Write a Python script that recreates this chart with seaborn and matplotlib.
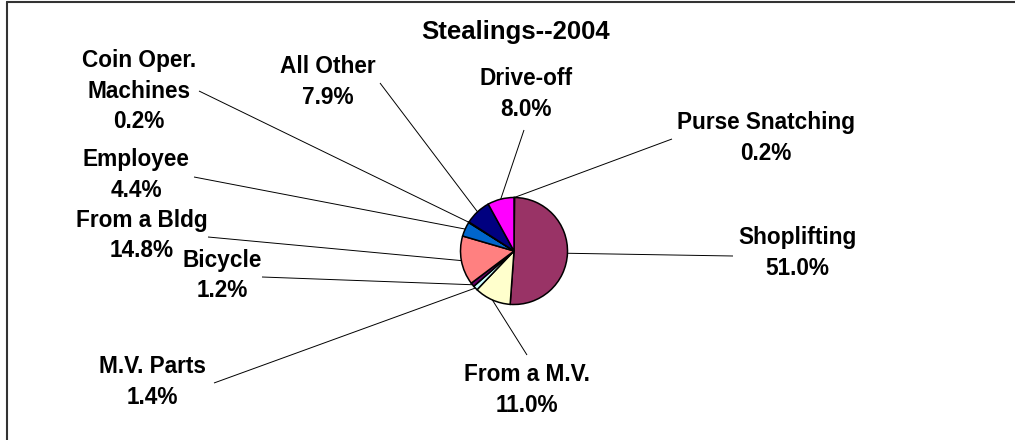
import numpy as np
import matplotlib
matplotlib.use("Agg")
import matplotlib.pyplot as plt
import seaborn as sns

# ---- data (clockwise from 12 o'clock) ----
categories = ["Purse Snatching", "Shoplifting", "From a M.V.", "M.V. Parts", "Bicycle",
              "From a Bldg", "Employee", "Coin Oper.\nMachines", "All Other", "Drive-off"]
shares = [0.2, 51.0, 11.0, 1.4, 1.2, 14.8, 4.4, 0.2, 7.9, 8.0]
colors = ["#9999FF", "#993366", "#FFFFCC", "#CCFFFF", "#660066",
          "#FF8080", "#0066CC", "#CCCCFF", "#000080", "#FF00FF"]
title = "Stealings--2004"

# ---- layout (pixel positions, y measured from top) ----
W, H = 1015, 440
pie_center_px = (514, 251)
pie_radius_px = 53.5
label_pos_px = [(766, 138), (797, 253), (527, 390), (152, 382), (222, 275.5),
                (142, 235.5), (136, 175), (139, 91), (328, 82), (526, 94)]
leader_anchor_px = [(672, 139), (733, 256), (527, 355), (214, 383), (262, 277),
                    (208, 237), (194, 177), (199, 91), (380, 83), (524, 130)]

sns.set_style("white")
plt.rcParams["font.family"] = ["Liberation Sans", "DejaVu Sans"]
plt.rcParams["text.color"] = "black"

fig = plt.figure(figsize=(W / 100, H / 100), dpi=100)
ax = fig.add_axes([0, 0, 1, 1])

def py(y):
    return H - y

cx, cy = pie_center_px[0], py(pie_center_px[1])
wedges, _ = ax.pie(shares, colors=colors, startangle=90, counterclock=False,
                   center=(cx, cy), radius=pie_radius_px,
                   wedgeprops=dict(edgecolor="black", linewidth=1.1))

ax.set_xlim(0, W)
ax.set_ylim(0, H)
ax.set_aspect("equal", adjustable="box")
ax.axis("off")

for w, lab, val, lp, la in zip(wedges, categories, shares, label_pos_px, leader_anchor_px):
    mid = np.deg2rad((w.theta1 + w.theta2) / 2)
    px = cx + pie_radius_px * np.cos(mid)
    pyy = cy + pie_radius_px * np.sin(mid)
    ax.plot([la[0], px], [py(la[1]), pyy], color="black", lw=0.7, solid_capstyle="butt")
    ax.text(lp[0], py(lp[1]), f"{lab}\n{val:.1f}%", ha="center", va="center",
            fontsize=16.3, fontweight="bold", linespacing=1.42, color="black")

ax.text(516, py(32), title, ha="center", va="center", fontsize=18.5,
        fontweight="bold", color="black")

# chart frame (left and top edges visible)
ax.plot([7, 7], [py(1.5), py(H + 5)], color="#333333", lw=1.5, clip_on=False)
ax.plot([7, W + 5], [py(1.5), py(1.5)], color="#333333", lw=1.5, clip_on=False)

fig.savefig("out.png", dpi=100, facecolor="white")
